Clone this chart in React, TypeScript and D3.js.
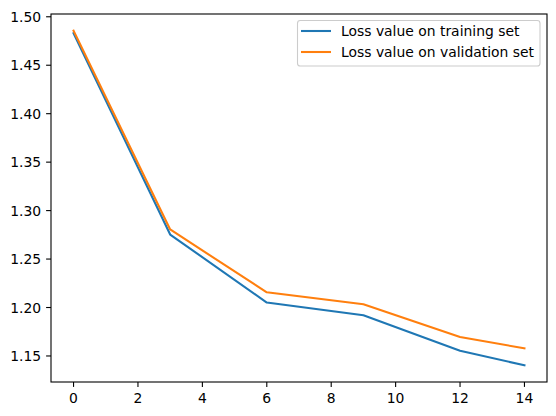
import React from "react";
import * as d3 from "d3";

const epochs = [0, 3, 6, 9, 12, 14];
const trainLoss = [1.483, 1.2753, 1.2051, 1.1921, 1.1554, 1.1404];
const valLoss = [1.4856, 1.2805, 1.2157, 1.2034, 1.1695, 1.1579];
const xTicks = [0, 2, 4, 6, 8, 10, 12, 14];
const yTicks = [1.15, 1.2, 1.25, 1.3, 1.35, 1.4, 1.45, 1.5];
const seriesNames = ["Loss value on training set", "Loss value on validation set"];
const colors = ["#1f77b4", "#ff7f0e"];

const W = 556, H = 416;
const L = 51, R = 547, T = 14, B = 382;

export default function App() {
  const allY = [...trainLoss, ...valLoss];
  const ymin = d3.min(allY)!, ymax = d3.max(allY)!;
  const yr = ymax - ymin;
  const x = d3.scaleLinear().domain([-0.7, 14.7]).range([L, R]);
  const y = d3.scaleLinear().domain([ymin - 0.05 * yr, ymax + 0.05 * yr]).range([B, T]);
  const line = d3.line<number>().x((_, i) => x(epochs[i])).y((d) => y(d));
  const font = "DejaVu Sans, sans-serif";
  const fs = 13.9;
  return (
    <svg width={W} height={H} style={{ position: "absolute", left: 0, top: 0 }} fontFamily={font}>
      <rect width={W} height={H} fill="#fff" />
      {[trainLoss, valLoss].map((s, i) => (
        <path key={i} d={line(s)!} fill="none" stroke={colors[i]} strokeWidth={2.08} strokeLinejoin="round" strokeLinecap="square" />
      ))}
      <rect x={L} y={T} width={R - L} height={B - T} fill="none" stroke="#000" strokeWidth={1.1} />
      {xTicks.map((t) => (
        <g key={t}>
          <line x1={x(t)} x2={x(t)} y1={B} y2={B + 4.9} stroke="#000" strokeWidth={1.1} />
          <text x={x(t)} y={B + 20.7} textAnchor="middle" fontSize={fs} fill="#000">{t}</text>
        </g>
      ))}
      {yTicks.map((t) => (
        <g key={t}>
          <line x1={L - 4.9} x2={L} y1={y(t)} y2={y(t)} stroke="#000" strokeWidth={1.1} />
          <text x={L - 9.8} y={y(t)} dy="0.36em" textAnchor="end" fontSize={fs} fill="#000">{t.toFixed(2)}</text>
        </g>
      ))}
      <rect x={297.5} y={20.5} width={242.5} height={45.5} rx={2.8} fill="#fff" fillOpacity={0.8} stroke="#ccc" strokeWidth={1.1} />
      {seriesNames.map((n, i) => (
        <g key={n}>
          <line x1={301} x2={331} y1={31 + i * 21} y2={31 + i * 21} stroke={colors[i]} strokeWidth={2.08} />
          <text x={341} y={31 + i * 21} dy="0.36em" fontSize={fs} fill="#000">{n}</text>
        </g>
      ))}
    </svg>
  );
}
